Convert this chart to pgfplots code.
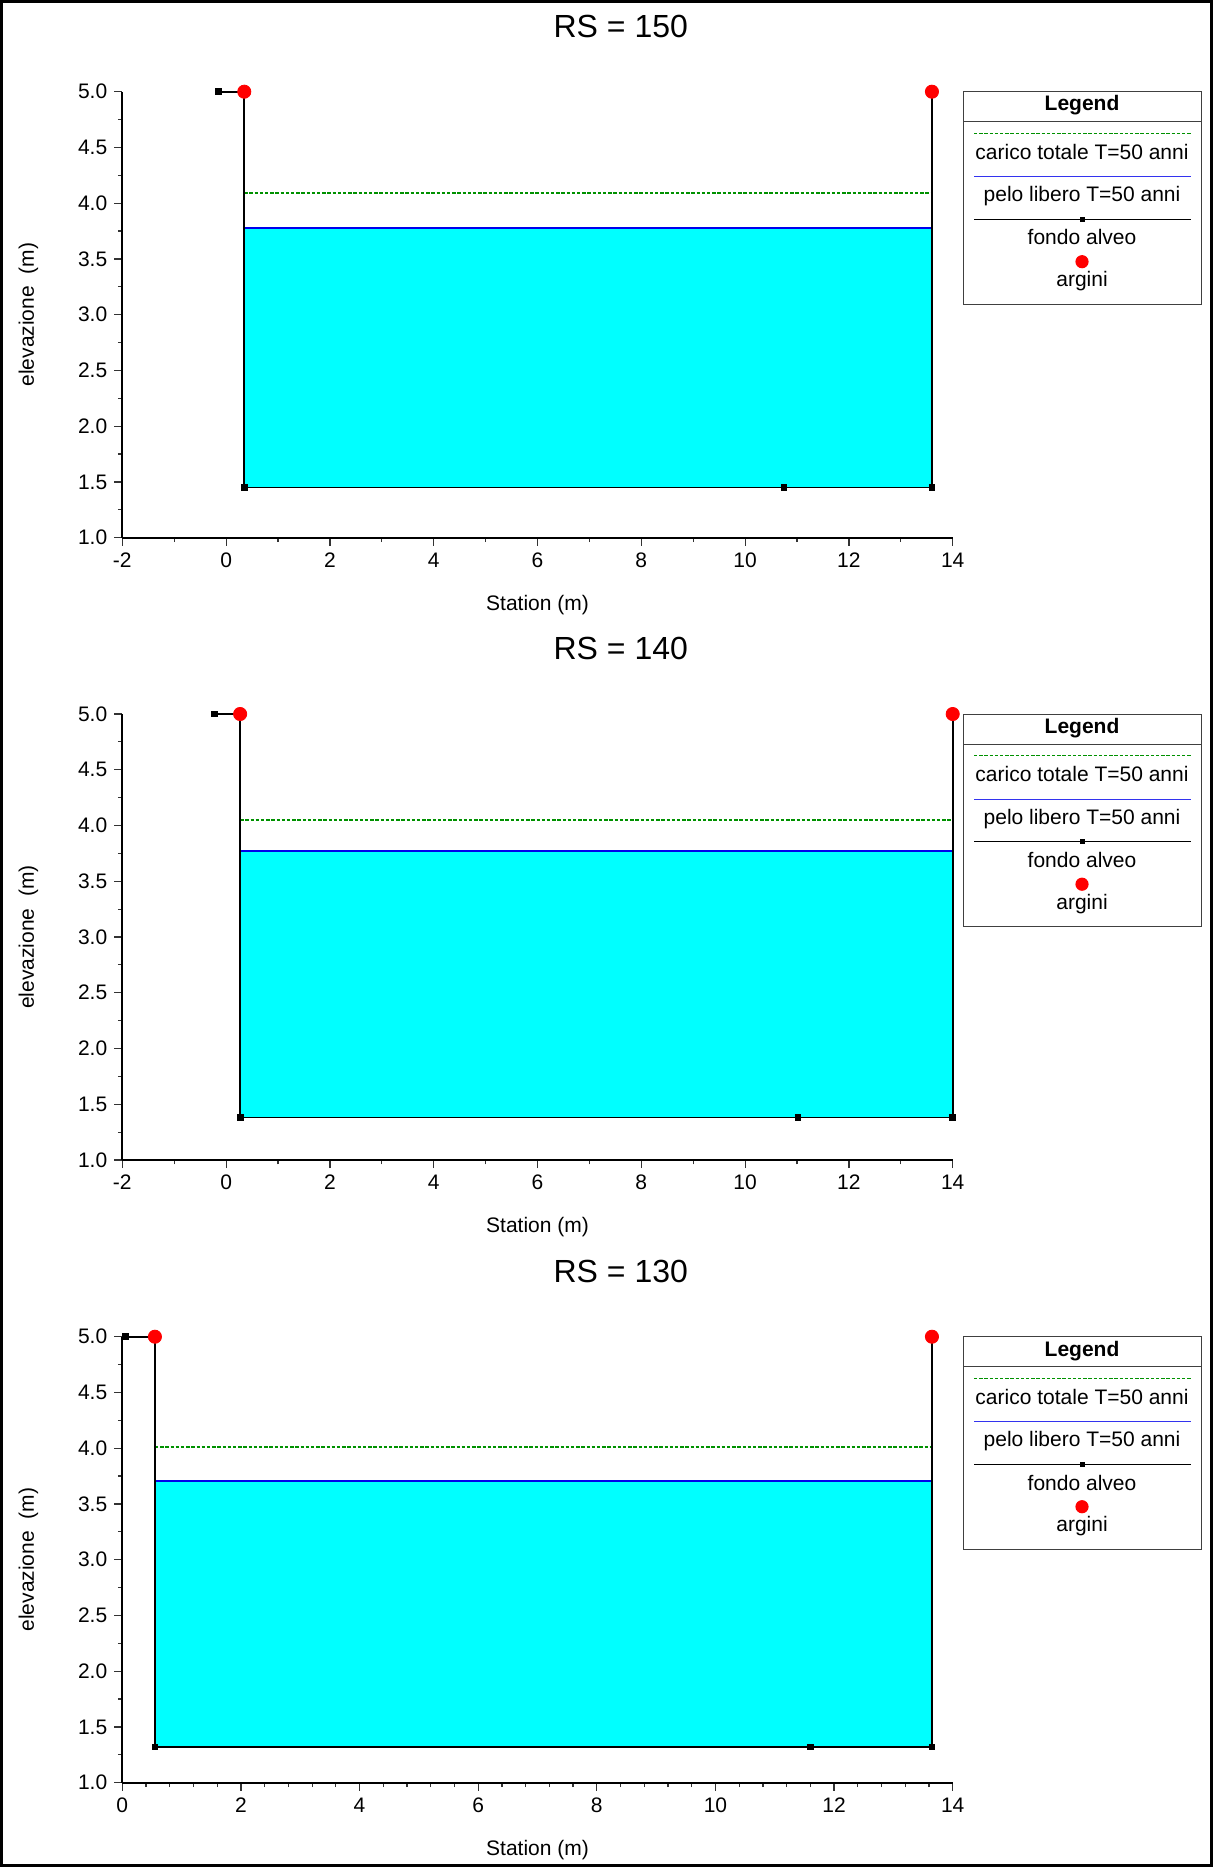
\documentclass[border=0pt]{standalone}
\usepackage{fontspec}
\setmainfont{Liberation Sans}
\usepackage{pgfplots}
\pgfplotsset{compat=1.18}

\definecolor{headgreen}{RGB}{0,145,0}
\definecolor{wsblue}{RGB}{0,0,235}
\definecolor{riverfill}{RGB}{0,255,255}

\newcommand{\lbl}{\fontsize{10.5}{12.6}\selectfont}

% common look of every cross-section
\pgfplotsset{
  xsection/.style={
    scale only axis, width=415.2pt, height=223pt,
    anchor=south west,
    ymin=1, ymax=5,
    axis lines=left,
    axis line style={-, line width=0.8pt},
    tick align=outside,
    major tick length=4pt, minor tick length=2.2pt,
    every tick/.style={line width=0.6pt, black!80},
    ytick={1,1.5,...,5}, minor y tick num=1,
    y tick label style={/pgf/number format/.cd, fixed, fixed zerofill, precision=1, /tikz/.cd},
    /pgf/number format/assume math mode=true,
    tick label style={font=\lbl},
    label style={font=\lbl},
    clip=false,
    xlabel={Station (m)},
    ylabel={elevazione\ \ (m)},
    xlabel style={at={(axis description cs:0.5,-0.1510)}, anchor=center, yshift=0pt},
    ylabel style={at={(axis description cs:-0.113,0.5)}, anchor=center, xshift=0pt},
    title style={at={(axis description cs:0.6003,1.0955)}, anchor=base,
                 font=\fontsize{16}{19}\selectfont},
  },
  headline/.style={headgreen, line width=0.7pt, dash pattern=on 1.7pt off 0.9pt},
  wsline/.style={wsblue, line width=1pt},
  groundline/.style={black, line width=0.8pt, mark=square*, mark size=1.3pt,
                     mark options={solid, fill=black}},
  banks/.style={only marks, mark=*, mark size=3.3pt, red, mark options={fill=red, draw=red}},
}

% legend box, drawn beside each section (units: 0.5pt, y downward)
\newcommand{\legendbox}[1]{%
  \begin{scope}[x=0.5pt, y=-0.5pt, yshift=#1]
    \draw[black!75, line width=0.5pt] (963.3,91.7) rectangle (1201,304);
    \draw[black!75, line width=0.5pt] (963.3,121.7) -- (1201,121.7);
    \node[anchor=base, font=\fontsize{10.5}{12.6}\selectfont\bfseries] at (1082,111) {Legend};
    \draw[headgreen, line width=0.6pt, dash pattern=on 1.7pt off 0.9pt] (974,133.3) -- (1190.7,133.3);
    \node[anchor=base, font=\lbl] at (1082,159.3) {carico totale T=50 anni};
    \draw[wsblue!80, line width=0.6pt] (974,176.7) -- (1190.7,176.7);
    \node[anchor=base, font=\lbl] at (1082,201.7) {pelo libero T=50 anni};
    \draw[black, line width=0.6pt] (974,219.3) -- (1190.7,219.3);
    \fill[black] (1079.7,216.7) rectangle (1084.9,221.9);
    \node[anchor=base, font=\lbl] at (1082,245) {fondo alveo};
    \fill[red] (1082,261.7) circle (3.3pt);
    \node[anchor=base, font=\lbl] at (1082,286.7) {argini};
  \end{scope}%
}

\begin{document}
\begin{tikzpicture}
\useasboundingbox (0,0) rectangle (606.5pt,-933.5pt);
\draw[line width=1.3pt] (0.65pt,-0.65pt) rectangle (605.85pt,-932.85pt);

% ---------------- RS = 150 ----------------
\begin{axis}[xsection, at={(61.15pt,-268.85pt)},
  title={RS = 150},
  xmin=-2, xmax=14, xtick={-2,0,...,14}, minor x tick num=1]
  \addplot[draw=none, fill=riverfill, forget plot]
    coordinates {(0.35,1.45) (13.6,1.45) (13.6,3.78) (0.35,3.78)} -- cycle;
  \addplot[headline] coordinates {(0.35,4.09) (13.6,4.09)};
  \addplot[wsline] coordinates {(0.35,3.78) (13.6,3.78)};
  \addplot[groundline] coordinates {(-0.15,5) (0.35,5) (0.35,1.45) (10.75,1.45) (13.6,1.45) (13.6,5)};
  \addplot[banks] coordinates {(0.35,5) (13.6,5)};
\end{axis}
\legendbox{0pt}

% ---------------- RS = 140 ----------------
\begin{axis}[xsection, at={(61.15pt,-580pt)},
  title={RS = 140},
  xmin=-2, xmax=14, xtick={-2,0,...,14}, minor x tick num=1]
  \addplot[draw=none, fill=riverfill, forget plot]
    coordinates {(0.27,1.38) (14.0,1.38) (14.0,3.77) (0.27,3.77)} -- cycle;
  \addplot[headline] coordinates {(0.27,4.05) (14.0,4.05)};
  \addplot[wsline] coordinates {(0.27,3.77) (14.0,3.77)};
  \addplot[groundline] coordinates {(-0.23,5) (0.27,5) (0.27,1.38) (11.02,1.38) (14.0,1.38) (14.0,5)};
  \addplot[banks] coordinates {(0.27,5) (14.0,5)};
\end{axis}
\legendbox{-311.25pt}

% ---------------- RS = 130 ----------------
\begin{axis}[xsection, at={(61.15pt,-891.35pt)},
  title={RS = 130},
  xmin=0, xmax=14, xtick={0,2,...,14}, minor x tick num=4]
  \addplot[draw=none, fill=riverfill, forget plot]
    coordinates {(0.55,1.32) (13.65,1.32) (13.65,3.71) (0.55,3.71)} -- cycle;
  \addplot[headline] coordinates {(0.55,4.01) (13.65,4.01)};
  \addplot[wsline] coordinates {(0.55,3.71) (13.65,3.71)};
  \addplot[groundline] coordinates {(0.05,5) (0.55,5) (0.55,1.32) (11.6,1.32) (13.65,1.32) (13.65,5)};
  \addplot[banks] coordinates {(0.55,5) (13.65,5)};
\end{axis}
\legendbox{-622.5pt}
\end{tikzpicture}
\end{document}
